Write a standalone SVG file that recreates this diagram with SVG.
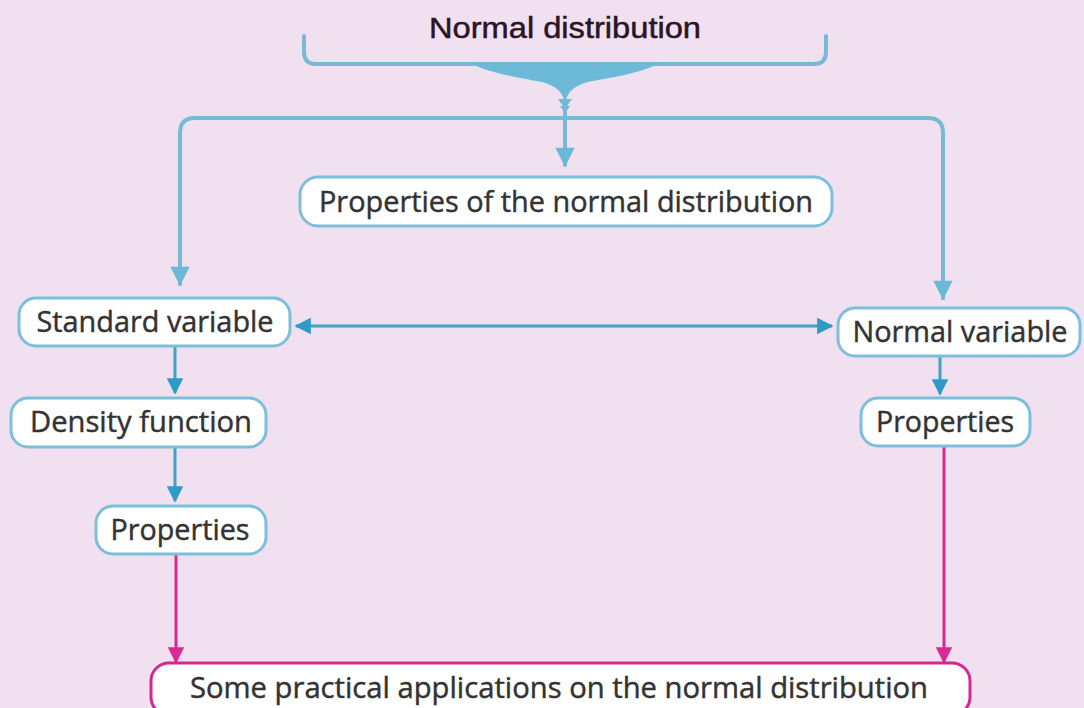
<svg xmlns="http://www.w3.org/2000/svg" width="1084" height="708" viewBox="0 0 1084 708">
  <defs>
    <style>
      .box { fill: #ffffff; stroke: #7dbfda; stroke-width: 3; }
      .box-app { fill: #ffffff; stroke: #d4288f; stroke-width: 3; }
      .label { font-family: "Open Sans", "Liberation Sans", sans-serif; font-size: 29px; fill: #333333; stroke: #333333; stroke-width: 0.45; text-anchor: middle; }
      .title { font-family: "Liberation Sans", Arial, sans-serif; font-size: 30px; fill: #2a1426; stroke: #2a1426; stroke-width: 0.5; text-anchor: middle; }
      .trunk { fill: none; stroke: #78bad6; stroke-width: 4; stroke-linecap: round; stroke-linejoin: round; }
      .link { fill: none; stroke: #3fa2c9; stroke-width: 3; }
      .pink { fill: none; stroke: #d92a92; stroke-width: 3; }
    </style>
    <marker id="ah-light" viewBox="0 0 10 10" refX="9" refY="5" markerWidth="5" markerHeight="4.8" markerUnits="strokeWidth" orient="auto-start-reverse">
      <path d="M0,0 L10,5 L0,10 Z" fill="#6bb8d7"/>
    </marker>
    <marker id="ah-blue" viewBox="0 0 10 10" refX="9" refY="5" markerWidth="5.5" markerHeight="5.8" markerUnits="strokeWidth" orient="auto-start-reverse">
      <path d="M0,0 L10,5 L0,10 Z" fill="#2e9bc4"/>
    </marker>
    <marker id="ah-pink" viewBox="0 0 10 10" refX="9" refY="5" markerWidth="5.5" markerHeight="5.8" markerUnits="strokeWidth" orient="auto">
      <path d="M0,0 L10,5 L0,10 Z" fill="#d92a92"/>
    </marker>
  </defs>

  <rect x="0" y="0" width="1084" height="708" fill="#f1e1f0"/>

  <!-- heading with brace -->
  <g id="heading">
    <text class="title" x="565" y="38" textLength="272" lengthAdjust="spacingAndGlyphs">Normal distribution</text>
    <path class="trunk" d="M304,36 V52 Q304,64 316,64 H814 Q826,64 826,52 V36"/>
    <path d="M470,63 H660 C640,74 606,78 588,82 C574,86 568,92 566,100 H564 C562,92 556,86 542,82 C524,78 490,74 470,63 Z" fill="#6dbad8"/>
    <path d="M558,99 H572 L567,106 H570 L565,113 L560,106 H563 Z" fill="#6dbad8"/>
    <line x1="565" y1="110" x2="565" y2="117" stroke="#78bad6" stroke-width="4"/>
  </g>

  <!-- connectors -->
  <g id="connectors">
    <path class="trunk" d="M180,284 V133 Q180,118 195,118 H928 Q943,118 943,133 V298" />
    <line class="trunk" x1="180" y1="200" x2="180" y2="284" marker-end="url(#ah-light)"/>
    <line class="trunk" x1="943" y1="200" x2="943" y2="298" marker-end="url(#ah-light)"/>
    <line class="trunk" x1="565" y1="117" x2="565" y2="165" stroke-width="3.5" marker-end="url(#ah-light)"/>
    <line class="link" x1="296" y1="326" x2="832" y2="326" marker-start="url(#ah-blue)" marker-end="url(#ah-blue)"/>
    <line class="link" x1="175" y1="347" x2="175" y2="393" marker-end="url(#ah-blue)"/>
    <line class="link" x1="175" y1="448" x2="175" y2="501" marker-end="url(#ah-blue)"/>
    <line class="link" x1="940" y1="357" x2="940" y2="394" marker-end="url(#ah-blue)"/>
    <line class="pink" x1="176" y1="555" x2="176" y2="662" marker-end="url(#ah-pink)"/>
    <line class="pink" x1="944" y1="447" x2="944" y2="662" marker-end="url(#ah-pink)"/>
  </g>

  <g id="props-normal">
    <rect class="box" x="300" y="177" width="532" height="49" rx="18"/>
    <text class="label" x="566" y="212" textLength="494" lengthAdjust="spacingAndGlyphs">Properties of the normal distribution</text>
  </g>

  <g id="standard-variable">
    <rect class="box" x="19" y="298" width="271" height="48" rx="17"/>
    <text class="label" x="155" y="332" textLength="237" lengthAdjust="spacingAndGlyphs">Standard variable</text>
  </g>

  <g id="normal-variable">
    <rect class="box" x="838" y="308" width="242" height="48" rx="17"/>
    <text class="label" x="960" y="342" textLength="215" lengthAdjust="spacingAndGlyphs">Normal variable</text>
  </g>

  <g id="density-function">
    <rect class="box" x="11" y="398" width="255" height="49" rx="17"/>
    <text class="label" x="141" y="432" textLength="222" lengthAdjust="spacingAndGlyphs">Density function</text>
  </g>

  <g id="properties-left">
    <rect class="box" x="96" y="506" width="170" height="48" rx="17"/>
    <text class="label" x="180" y="540" textLength="139" lengthAdjust="spacingAndGlyphs">Properties</text>
  </g>

  <g id="properties-right">
    <rect class="box" x="861" y="398" width="169" height="48" rx="17"/>
    <text class="label" x="945" y="432" textLength="138" lengthAdjust="spacingAndGlyphs">Properties</text>
  </g>

  <g id="applications">
    <rect class="box-app" x="151" y="663" width="819" height="52" rx="18"/>
    <text class="label" x="559" y="698" textLength="738" lengthAdjust="spacingAndGlyphs">Some practical applications on the normal distribution</text>
  </g>
</svg>
